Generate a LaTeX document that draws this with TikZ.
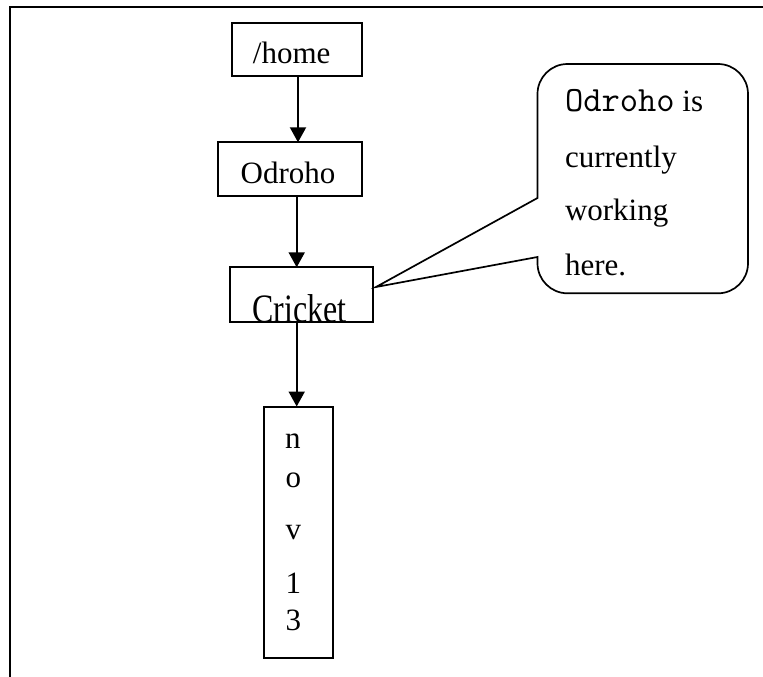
\documentclass[tikz,border=0pt]{standalone}
\usepackage{fontspec}
\setmainfont{Liberation Serif}
\usetikzlibrary{arrows.meta}
\newcommand{\monoword}[1]{{\ttfamily\fontsize{35.5}{40}\selectfont #1}}
\begin{document}
\begin{tikzpicture}[x=1pt,y=-1pt,
  every node/.style={font=\fontsize{31}{37}\selectfont, inner sep=0pt, outer sep=0pt},
  box/.style={draw, line width=2pt, rectangle},
  conn/.style={line width=2pt, -{Triangle[length=15pt,width=16pt]}},
  txt/.style={anchor=base},
  ltxt/.style={anchor=base west}]
\useasboundingbox (0,0) rectangle (763,677);
% outer frame
\draw[line width=1.8pt] (10,690) -- (10,7) -- (770,7);
% boxes
\node[box, minimum width=130pt, minimum height=53pt] (home) at (297,49.5) {};
\node[txt] (hometxt) at (291.7,63.3) {/home};
\node[box, minimum width=144pt, minimum height=53.4pt] (odroho) at (290.3,169) {};
\node[txt] (odrohotxt) at (288,183.5) {Odroho};
\node[box, minimum width=142.7pt, minimum height=54.4pt] (cricket) at (301.3,294.5) {};
\begin{scope}
\clip (231,268) rectangle (372,320.5);
\node[txt, yscale=1.3, xscale=1.03] (crickettxt) at (299.2,322) {Cricket};
\end{scope}
\node[box, minimum width=68.7pt, minimum height=251.8pt] (nov) at (298.3,532.4) {};
\node[ltxt] (n1) at (285,448) {n};
\node[ltxt] (n2) at (285.5,487) {o};
\node[ltxt] (n3) at (285.5,539) {v};
\node[ltxt] (n4) at (285.5,593) {1};
\node[ltxt] (n5) at (285.5,630) {3};
% connectors
\draw[conn] (home.south -| 298,0) -- (odroho.north -| 298,0);
\draw[conn] (odroho.south -| 296.7,0) -- (cricket.north -| 296.7,0);
\draw[conn] (cricket.south -| 296.7,0) -- (nov.north -| 296.7,0);
% callout
\coordinate (tip) at (376,287);
\draw[line width=1.7pt, line join=miter] (tip) -- (537.5,198)
  [rounded corners=30pt] -- (537.5,64) -- (748,64) -- (748,293.3) -- (537.5,293.3)
  [sharp corners] -- (537.5,257) -- cycle;
\node[ltxt] (c1) at (565,111.7) {\monoword{Odroho} is};
\node[ltxt] (c2) at (565,167) {currently};
\node[ltxt] (c3) at (565,220) {working};
\node[ltxt] (c4) at (565,275) {here.};
\end{tikzpicture}
\end{document}
